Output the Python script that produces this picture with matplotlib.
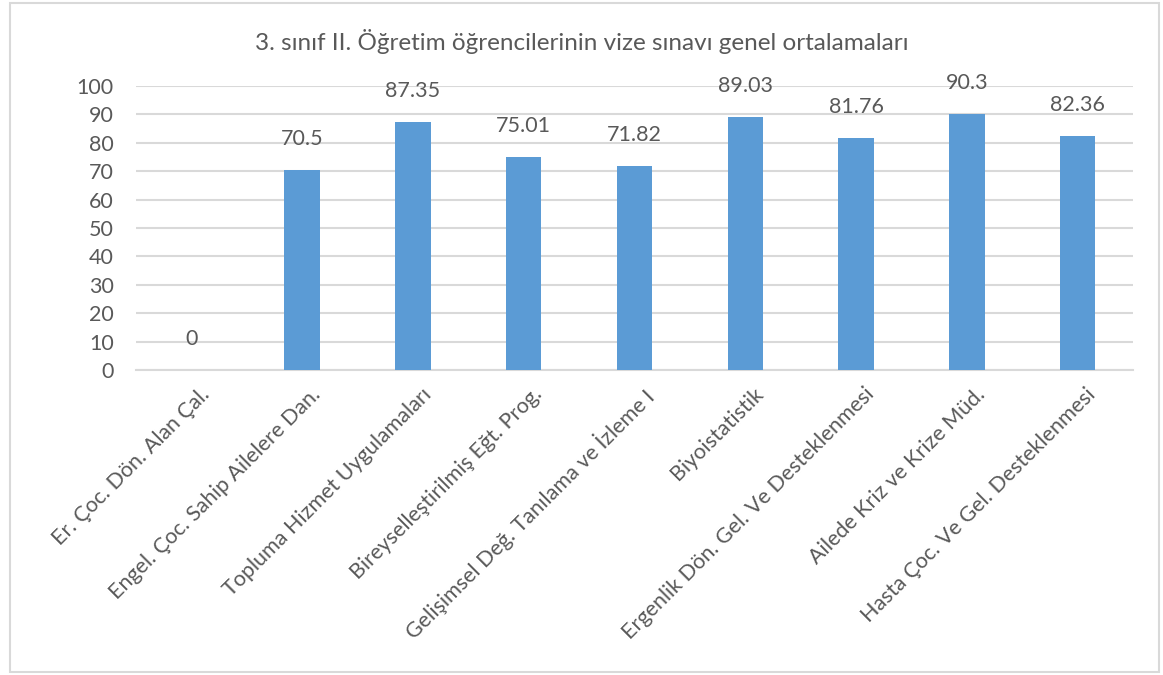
import matplotlib.pyplot as plt
from matplotlib.patches import Rectangle
from matplotlib.transforms import ScaledTranslation

categories = [
    'Er. Çoc. Dön. Alan Çal.',
    'Engel. Çoc. Sahip Ailelere Dan.',
    'Topluma Hizmet Uygulamaları',
    'Bireyselleştirilmiş Eğt. Prog.',
    'Gelişimsel Değ. Tanılama ve İzleme I',
    'Biyoistatistik',
    'Ergenlik Dön. Gel. Ve Desteklenmesi',
    'Ailede Kriz ve Krize Müd.',
    'Hasta Çoc. Ve Gel. Desteklenmesi',
]
values = [0, 70.5, 87.35, 75.01, 71.82, 89.03, 81.76, 90.3, 82.36]
value_labels = ['0', '70.5', '87.35', '75.01', '71.82', '89.03', '81.76', '90.3', '82.36']
title = '3. sınıf II. Öğretim öğrencilerinin vize sınavı genel ortalamaları'

text_color = '#595959'
plt.rcParams['font.family'] = ['Lato', 'DejaVu Sans']

fig = plt.figure(figsize=(11.63, 6.75), dpi=100)
ax = fig.add_axes([136 / 1163, 305 / 675, 997 / 1163, 284 / 675])

# Outer chart border
fig.patches.append(Rectangle((10 / 1163, 3 / 675), 1149 / 1163, 669 / 675,
                             transform=fig.transFigure, fill=False,
                             edgecolor='#D9D9D9', linewidth=1.5))

x = range(len(categories))
ax.bar(x, values, width=0.32, color='#5B9BD5', zorder=3)

for i, (v, lab) in enumerate(zip(values, value_labels)):
    ax.annotate(lab, (i, v), xytext=(0, 15), textcoords='offset points',
                ha='center', va='bottom', fontsize=15.5, color=text_color)

ax.set_xlim(-0.5, len(categories) - 0.5)
ax.set_ylim(0, 100)
ax.set_yticks(range(0, 101, 10))
ax.yaxis.grid(True, color='#D9D9D9', linewidth=1.5, zorder=0)
for s in ['top', 'right', 'left']:
    ax.spines[s].set_visible(False)
ax.spines['bottom'].set_color('#D9D9D9')
ax.spines['bottom'].set_linewidth(1.5)
ax.tick_params(axis='y', length=0, labelsize=15.5, colors=text_color, pad=16)
ax.tick_params(axis='x', length=0, labelsize=15.5, colors=text_color, pad=10)

ax.set_xticks(list(x))
ax.set_xticklabels(categories, rotation=45, ha='right', rotation_mode='anchor')
# nudge rotated labels a little to the right, like the original
shift = ScaledTranslation(8 / 100, 0, fig.dpi_scale_trans)
for lbl in ax.get_xticklabels():
    lbl.set_transform(lbl.get_transform() + shift)

fig.text(0.5, 1 - 42 / 675, title, ha='center', va='center', fontsize=17.5,
         color=text_color)

fig.savefig('out.png', dpi=100)
